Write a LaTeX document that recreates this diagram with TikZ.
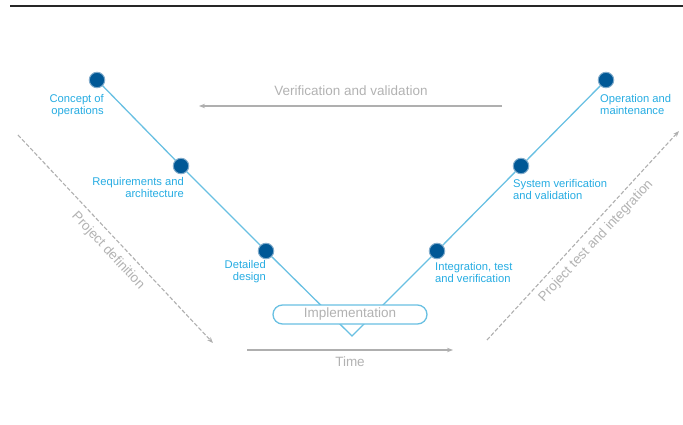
\documentclass[tikz,border=0pt]{standalone}
\usepackage{fontspec}
\setmainfont{Liberation Sans}
\usetikzlibrary{arrows.meta}
\definecolor{dotblue}{RGB}{0,88,150}
\definecolor{lineblue}{RGB}{105,192,226}
\definecolor{labelblue}{RGB}{38,172,226}
\definecolor{graytext}{RGB}{178,178,178}
\definecolor{grayline}{RGB}{175,175,175}
\tikzset{
  phase/.style={circle, fill=dotblue, draw=dotblue!50!white, line width=1pt, minimum size=15.5pt, inner sep=0pt},
  vline/.style={draw=lineblue, line width=1.3pt},
  lbl/.style={text=labelblue, inner sep=0pt, font=\fontsize{11.2}{11.4}\selectfont},
  bigtxt/.style={text=graytext, inner sep=0pt, font=\fontsize{13.5}{15}\selectfont},
  garrow/.style={draw=grayline, line width=1.2pt, -{Stealth[length=6pt,width=4.5pt]}},
  darrow/.style={draw=grayline, line width=1.1pt, dash pattern=on 4pt off 2pt, -{Stealth[length=6pt,width=4.5pt]}},
  implbox/.style={draw=lineblue, line width=1.3pt, fill=white, rounded corners=9.5pt, minimum width=154pt, minimum height=19pt, inner sep=0pt, text=graytext, font=\fontsize{13.5}{15}\selectfont}
}
\begin{document}
\begin{tikzpicture}[x=1pt,y=-1pt]
\useasboundingbox (0,0) rectangle (683,425);
% top rule
\coordinate (ruleL) at (10,6);
\coordinate (ruleR) at (683,6);
\draw[line width=2pt, black!85] (ruleL) -- (ruleR);
% V model
\coordinate (vb) at (352,336);
\coordinate (p1) at (97,80);
\coordinate (p2) at (181,166);
\coordinate (p3) at (266,251);
\coordinate (p4) at (437,251);
\coordinate (p5) at (521,166);
\coordinate (p6) at (606,80);
\draw[vline] (p1) -- (p2) -- (p3) -- (vb) -- (p4) -- (p5) -- (p6);
\node[phase] (c1) at (p1) {};
\node[phase] (c2) at (p2) {};
\node[phase] (c3) at (p3) {};
\node[phase] (c4) at (p4) {};
\node[phase] (c5) at (p5) {};
\node[phase] (c6) at (p6) {};
\node[implbox] (impl) at (350,314.5) {Implementation};
% labels
\node[lbl, anchor=east, align=right] (l1) at (104,105.5) {Concept of\\operations};
\node[lbl, anchor=east, align=right] (l2) at (184,187.5) {Requirements and\\architecture};
\node[lbl, anchor=east, align=right] (l3) at (266,271.5) {Detailed\\design};
\node[lbl, anchor=west, align=left] (l4) at (435,272.5) {Integration, test\\and verification};
\node[lbl, anchor=west, align=left] (l5) at (513,189.5) {System verification\\and validation};
\node[lbl, anchor=west, align=left] (l6) at (600,104.5) {Operation and\\maintenance};
% verification arrow
\coordinate (vvR) at (502,106);
\coordinate (vvL) at (199,106);
\draw[garrow] (vvR) -- (vvL);
\node[bigtxt] (vvt) at (351,91) {Verification and validation};
% time arrow
\coordinate (tL) at (247,350);
\coordinate (tR) at (453,350);
\draw[garrow] (tL) -- (tR);
\node[bigtxt] (tt) at (350,362) {Time};
% project definition
\coordinate (pdA) at (18,135);
\coordinate (pdB) at (213,343);
\draw[darrow] (pdA) -- (pdB);
\node[bigtxt, rotate=-47] (pdt) at (108,251) {Project definition};
% project test and integration
\coordinate (ptA) at (487,340);
\coordinate (ptB) at (679,131);
\draw[darrow] (ptA) -- (ptB);
\node[bigtxt, rotate=47] (ptt) at (596,241) {Project test and integration};
\end{tikzpicture}
\end{document}
